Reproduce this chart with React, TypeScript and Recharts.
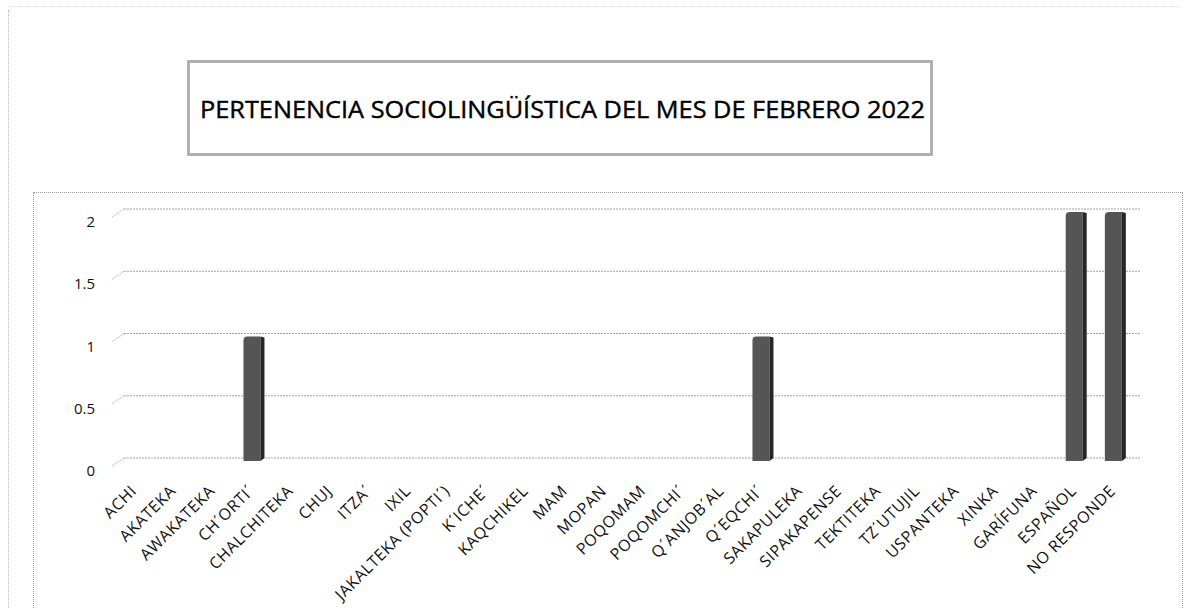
import React from 'react';
import { BarChart, Bar, XAxis, YAxis, CartesianGrid } from 'recharts';

const categories = [
  'ACHI', 'AKATEKA', 'AWAKATEKA', 'CH´ORTI´', 'CHALCHITEKA', 'CHUJ', 'ITZA´', 'IXIL',
  'JAKALTEKA (POPTI´)', 'K´ICHE´', 'KAQCHIKEL', 'MAM', 'MOPAN', 'POQOMAM', 'POQOMCHI´',
  'Q´ANJOB´AL', 'Q´EQCHI´', 'SAKAPULEKA', 'SIPAKAPENSE', 'TEKTITEKA', 'TZ´UTUJIL',
  'USPANTEKA', 'XINKA', 'GARÍFUNA', 'ESPAÑOL', 'NO RESPONDE',
];
const values = [0, 0, 0, 1, 0, 0, 0, 0, 0, 0, 0, 0, 0, 0, 0, 0, 1, 0, 0, 0, 0, 0, 0, 0, 2, 2];
const yTicks = [0, 0.5, 1, 1.5, 2];
const title = 'PERTENENCIA SOCIOLINGÜÍSTICA DEL MES DE FEBRERO 2022';

const data = categories.map((c, i) => ({ name: c, value: values[i] }));

const FONT = "'Open Sans', 'DejaVu Sans', sans-serif";

const Bar3D = (props: any) => {
  const { x, y, width, height } = props;
  if (!height || height <= 0) return <g />;
  const side = 4;
  const fw = width - side;
  return (
    <g>
      <path
        d={`M${x},${y + 4} Q${x},${y} ${x + 4},${y} L${x + fw},${y} L${x + fw},${y + height} L${x},${y + height} Z`}
        fill="#555555"
      />
      <path
        d={`M${x + fw},${y} L${x + width},${y + 1} L${x + width},${y + height - 3} L${x + fw},${y + height} Z`}
        fill="#262626"
      />
    </g>
  );
};

const gridLine = (p: any) => {
  const { x1, x2, y1, index } = p;
  const gy = y1 - 3;
  return (
    <g key={`g-${index}-${y1}`}>
      <line x1={x1 - 5} y1={gy + 8} x2={x1 + 7} y2={gy} stroke="#b8b8b8" strokeWidth={1} strokeDasharray="2 1" />
      <line x1={x1 + 7} y1={gy} x2={x2 + 5} y2={gy} stroke="#a0a0a0" strokeWidth={1} strokeDasharray="2 1" />
    </g>
  );
};

const YTick = (props: any) => {
  const { x, y, payload } = props;
  return (
    <text x={x} y={y + 9} textAnchor="end" dominantBaseline="central" fontFamily={FONT} fontSize={15} fill="#111">
      {payload.value}
    </text>
  );
};

const XTick = (props: any) => {
  const { x, y, payload } = props;
  const ax = x + 1;
  const ay = y + 31;
  return (
    <text
      x={ax}
      y={ay}
      textAnchor="end"
      transform={`rotate(-45, ${ax}, ${ay})`}
      fontFamily={FONT}
      fontSize={16}
      letterSpacing={0.6}
      fill="#111"
    >
      {payload.value}
    </text>
  );
};

export default function App() {
  return (
    <div style={{ position: 'absolute', left: 0, top: 0, width: 1187, height: 608, background: '#fff', overflow: 'hidden' }}>
      {/* page border */}
      <div style={{ position: 'absolute', left: 8, top: 10, width: 0, height: 610, borderLeft: '1px dotted #b5b5b5' }} />
      <div style={{ position: 'absolute', left: 10, top: 6, width: 1170, height: 0, borderTop: '1px dotted #dcdcdc' }} />
      {/* chart area box */}
      <div style={{ position: 'absolute', left: 33, top: 192, width: 1150, height: 430, border: '1px dotted #9a9a9a', boxSizing: 'border-box' }} />
      {/* title box */}
      <div style={{ position: 'absolute', left: 187, top: 60, width: 746, height: 96, border: '3px solid #b0b0b0', boxSizing: 'border-box' }} />
      <svg style={{ position: 'absolute', left: 0, top: 0 }} width={1187} height={200}>
        <text x={200} y={118} fontFamily={FONT} fontSize={24} fill="#000" stroke="#000" strokeWidth={0.4} textLength={725} lengthAdjust="spacingAndGlyphs">
          {title}
        </text>
      </svg>
      <div style={{ position: 'absolute', left: 0, top: 0 }}>
        <BarChart
          width={1187}
          height={608}
          data={data}
          margin={{ top: 212, right: 52, bottom: 0, left: 57 }}
          barSize={21}
        >
          <CartesianGrid vertical={false} horizontal={gridLine} />
          <XAxis
            dataKey="name"
            interval={0}
            height={147}
            tickLine={false}
            axisLine={false}
            tickSize={0}
            tickMargin={0}
            tick={<XTick />}
          />
          <YAxis
            width={60}
            domain={[0, 2]}
            ticks={yTicks}
            tickLine={false}
            axisLine={false}
            tickSize={0}
            tickMargin={22}
            tick={<YTick />}
          />
          <Bar dataKey="value" isAnimationActive={false} shape={<Bar3D />} />
        </BarChart>
      </div>
    </div>
  );
}
